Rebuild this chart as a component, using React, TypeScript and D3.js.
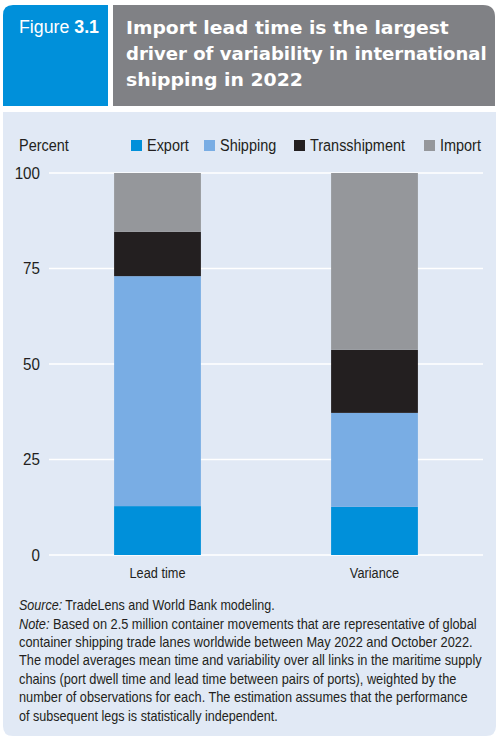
import React, { useEffect, useRef } from 'react';
import * as d3 from 'd3';

// chart data
const categories = ['Lead time', 'Variance'];
const seriesNames = ['Export', 'Shipping', 'Transshipment', 'Import'];
const exportShare = [12.8, 12.6];
const shippingShare = [60.2, 24.6];
const transshipmentShare = [11.6, 16.5];
const importShare = [15.4, 46.3];
const yTicks = [0, 25, 50, 75, 100];
const seriesColors = ['#0090da', '#79ade4', '#231f20', '#95979b'];

const titleLines = [
  'Import lead time is the largest',
  'driver of variability in international',
  'shipping in 2022',
];
const noteLines = [
  'Based on 2.5 million container movements that are representative of global',
  'container shipping trade lanes worldwide between May 2022 and October 2022.',
  'The model averages mean time and variability over all links in the maritime supply',
  'chains (port dwell time and lead time between pairs of ports), weighted by the',
  'number of observations for each. The estimation assumes that the performance',
  'of subsequent legs is statistically independent.',
];

// layout: widths of the wrapped lines in the panel
const titleWidths = [323, 361, 177];
const noteWidths = [458, 454, 463, 438, 449, 259];

const SANS = '"Liberation Sans", Arial, sans-serif';
const HEAVY = '"DejaVu Sans", sans-serif';
const NARROW_K = 0.85; // horizontal squeeze to imitate a condensed face

// squeeze a text horizontally around its anchor point
const squeeze = (sel: any, x0: number, y0: number, k: number) => {
  sel.attr('x', 0).attr('y', 0)
    .attr('transform', `translate(${x0},${y0}) scale(${k},1)`);
};
const fitTo = (sel: any, x0: number, y0: number, width: number) => {
  const w = sel.node().getComputedTextLength();
  squeeze(sel, x0, y0, width / w);
};

const App = () => {
  const svgRef = useRef<SVGSVGElement>(null);

  useEffect(() => {
    const svg = d3.select(svgRef.current);
    svg.selectAll('*').remove();
    svg.attr('width', 497).attr('height', 740);

    // header boxes
    svg.append('path')
      .attr('d', 'M3,106 V15 Q3,5 13,5 H108 V106 Z')
      .attr('fill', '#0090da');
    svg.append('path')
      .attr('d', 'M113,106 V5 H483 Q495,5 495,17 V106 Z')
      .attr('fill', '#808185');

    // panel background
    svg.append('path')
      .attr('d', 'M3,112 H496 V726 Q496,736 486,736 H13 Q3,736 3,726 Z')
      .attr('fill', '#e1e9f5');

    const fig = svg.append('text')
      .attr('fill', '#fff')
      .style('font-family', SANS)
      .style('font-size', '18px');
    fig.append('tspan').text('Figure ');
    fig.append('tspan').style('font-weight', 'bold').text('3.1');
    fitTo(fig, 19, 33, 80);

    titleLines.forEach((line, i) => {
      const t = svg.append('text')
        .attr('fill', '#fff')
        .style('font-family', HEAVY)
        .style('font-weight', 'bold')
        .style('font-size', '18px')
        .text(line);
      fitTo(t, 126, 34 + i * 26, titleWidths[i]);
    });

    // scales
    const x = d3.scaleBand()
      .domain(categories)
      .range([49, 483])
      .paddingInner(0.6)
      .paddingOuter(0.3);

    const y = d3.scaleLinear()
      .domain([0, 100])
      .range([555, 173]);

    // gridlines + y labels
    const grid = svg.append('g');
    grid.selectAll('line')
      .data(yTicks)
      .enter().append('line')
      .attr('x1', 49)
      .attr('x2', 483)
      .attr('y1', d => y(d))
      .attr('y2', d => y(d))
      .attr('stroke', '#fff')
      .attr('stroke-width', 1.5);
    grid.selectAll('text')
      .data(yTicks)
      .enter().append('text')
      .attr('dy', '0.36em')
      .attr('text-anchor', 'end')
      .attr('fill', '#231f20')
      .style('font-family', SANS)
      .style('font-size', '16.5px')
      .text(d => d)
      .each(function (d) { squeeze(d3.select(this), 40, y(d), 0.92); });

    // stacked bars
    const rows = categories.map((c, i) => ({
      category: c,
      Export: exportShare[i],
      Shipping: shippingShare[i],
      Transshipment: transshipmentShare[i],
      Import: importShare[i],
    }));
    const stacked = d3.stack<any>().keys(seriesNames)(rows);

    svg.append('g')
      .selectAll('g')
      .data(stacked)
      .enter().append('g')
      .attr('fill', (d, i) => seriesColors[i])
      .selectAll('rect')
      .data(d => d)
      .enter().append('rect')
      .attr('x', d => x(d.data.category)!)
      .attr('width', x.bandwidth())
      .attr('y', d => y(d[1]))
      .attr('height', d => y(d[0]) - y(d[1]));

    // x labels
    svg.append('g')
      .selectAll('text')
      .data(categories)
      .enter().append('text')
      .attr('text-anchor', 'middle')
      .attr('fill', '#231f20')
      .style('font-family', SANS)
      .style('font-size', '15px')
      .text(d => d)
      .each(function (d) { squeeze(d3.select(this), x(d)! + x.bandwidth() / 2, 578, NARROW_K); });

    // axis title + legend
    const pct = svg.append('text')
      .attr('fill', '#231f20')
      .style('font-family', SANS)
      .style('font-size', '17px')
      .text('Percent');
    squeeze(pct, 19, 151, NARROW_K);

    const legendX = [131, 204, 294, 424];
    const legend = svg.append('g')
      .selectAll('g')
      .data(seriesNames)
      .enter().append('g')
      .attr('transform', (d, i) => `translate(${legendX[i]},140)`);
    legend.append('rect')
      .attr('width', 11)
      .attr('height', 11)
      .attr('fill', (d, i) => seriesColors[i]);
    legend.append('text')
      .attr('fill', '#231f20')
      .style('font-family', SANS)
      .style('font-size', '17px')
      .text(d => d)
      .each(function () { squeeze(d3.select(this), 16, 11, NARROW_K); });

    // source and note
    const src = svg.append('text')
      .attr('fill', '#231f20')
      .style('font-family', SANS)
      .style('font-size', '14px');
    src.append('tspan').style('font-style', 'italic').text('Source:');
    src.append('tspan').text(' TradeLens and World Bank modeling.');
    fitTo(src, 19, 610, 256);

    noteLines.forEach((line, i) => {
      const t = svg.append('text')
        .attr('fill', '#231f20')
        .style('font-family', SANS)
        .style('font-size', '14px');
      if (i === 0) {
        t.append('tspan').style('font-style', 'italic').text('Note:');
        t.append('tspan').text(' ' + line);
      } else {
        t.text(line);
      }
      fitTo(t, 19, 628.5 + i * 18.4, noteWidths[i]);
    });
  }, []);

  return (
    <svg ref={svgRef} style={{ position: 'absolute', left: 0, top: 0, background: '#fff' }}></svg>
  );
};

export default App;
